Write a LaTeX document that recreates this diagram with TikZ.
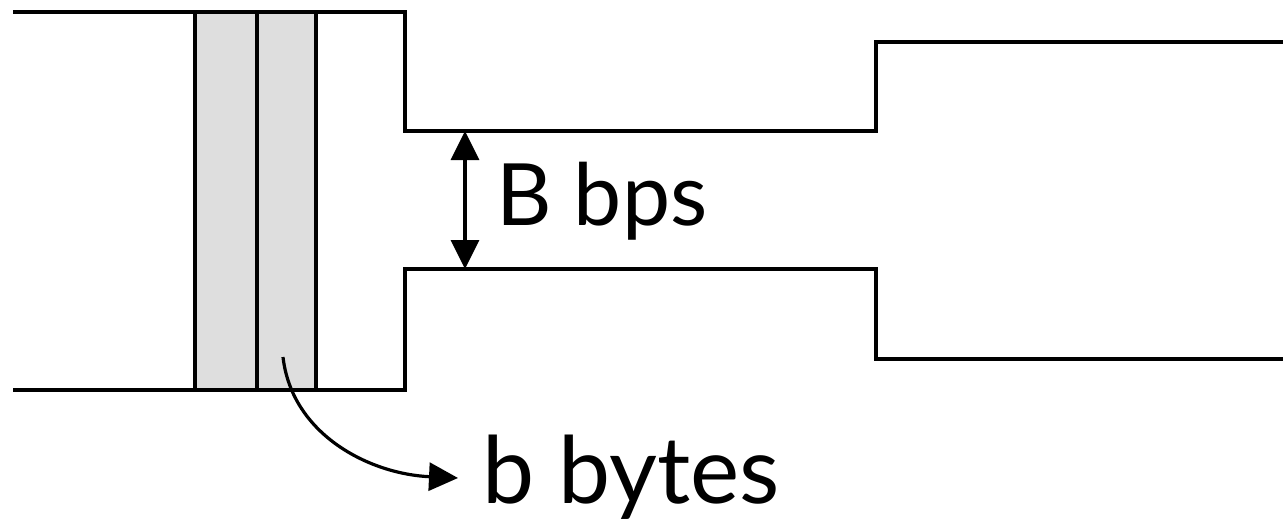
\documentclass[tikz,border=0pt]{standalone}
\usepackage{fontspec}
\setmainfont{Lato}
\usetikzlibrary{arrows.meta}
\definecolor{cellgray}{HTML}{DEDEDE}
\tikzset{
  pipe/.style={line width=3.2pt, line join=miter},
  cell/.style={draw, line width=3.2pt, fill=cellgray},
  head/.style={Triangle[length=29pt,width=28pt]},
  tip/.style={-{Triangle[length=29pt,width=28pt]}, line width=3.2pt},
  lbl/.style={inner sep=0pt, anchor=base west}
}
\begin{document}
\begin{tikzpicture}[x=1pt,y=-1pt]
\useasboundingbox (0,0) rectangle (1283,530);
% packet cells
\draw[cell] (195,12) rectangle (257,390);
\draw[cell] (257,12) rectangle (316,390);
% pipe outline
\draw[pipe] (13,12) -- (405,12) -- (405,131) -- (876,131) -- (876,42) -- (1283,42);
\draw[pipe] (13,390) -- (405,390) -- (405,269) -- (876,269) -- (876,359) -- (1283,359);
% bandwidth arrow
\coordinate (bt) at (465,131);
\coordinate (bb) at (465,269);
\draw[line width=3.2pt, {Triangle[length=29pt,width=28pt]}-{Triangle[length=29pt,width=28pt]}] (bt) -- (bb);
\node[lbl, font=\fontsize{86}{96}\selectfont] (bw) at (496,225) {B bps};
% bytes label
\node[lbl, font=\fontsize{93}{104}\selectfont] (by) at (482,503) {b bytes};
\coordinate (cs) at (283,357);
\coordinate (ce) at (458,478);
\draw[tip] (cs) .. controls (292,435) and (370,474) .. (ce);
\end{tikzpicture}
\end{document}
